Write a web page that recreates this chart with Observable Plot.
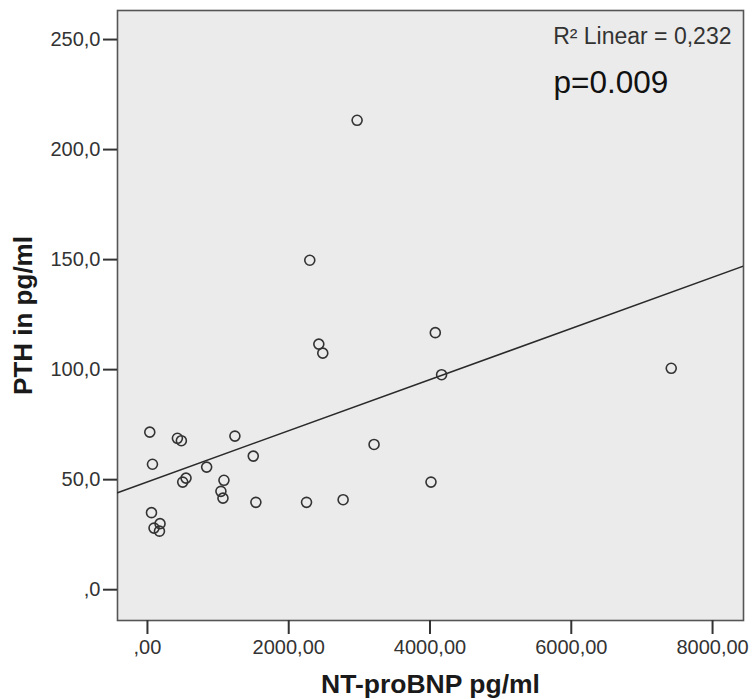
<!DOCTYPE html>
<html><head><meta charset="utf-8">
<script src="https://cdn.jsdelivr.net/npm/d3@7"></script>
<script src="https://cdn.jsdelivr.net/npm/@observablehq/plot@0.6"></script>
<style>body{margin:0;background:#fff;} #chart svg{display:block;}</style>
</head><body><div id="chart"></div>
<script>
// NT-proBNP (pg/ml) and PTH (pg/ml)
const ntprobnp = [33, 424, 480, 1238, 71, 1498, 838, 546, 499, 1083, 1040, 1069, 1535, 2252, 2770, 57, 178, 93, 170, 2968, 2298, 2426, 2482, 4075, 4164, 3208, 4014, 7415];
const pth      = [71.6, 68.8, 67.7, 69.8, 57, 60.7, 55.7, 50.7, 48.9, 49.7, 44.7, 41.6, 39.7, 39.7, 40.9, 35, 30, 28, 26.6, 213.3, 149.7, 111.6, 107.5, 116.8, 97.7, 66, 48.9, 100.6];

const xTicks = [0, 2000, 4000, 6000, 8000];
const xTickLabels = [",00", "2000,00", "4000,00", "6000,00", "8000,00"];
const yTicks = [0, 50, 100, 150, 200, 250];
const yTickLabels = [",0", "50,0", "100,0", "150,0", "200,0", "250,0"];
const xDomain = [-424, 8438];
const yDomain = [-14, 263.2];

// linear fit line (R² = 0.232)
const fitIntercept = 49.0;
const fitSlope = 0.01162;

const rSquaredLabel = "R² Linear = 0,232";
const pLabel = "p=0.009";
const xTitle = "NT-proBNP pg/ml";
const yTitle = "PTH in pg/ml";

const points = ntprobnp.map((x, i) => ({x, y: pth[i]}));
const fit = xDomain.map(x => ({x, y: fitIntercept + fitSlope * x}));

const font = "'Liberation Sans', Arial, Helvetica, sans-serif";

const chart = Plot.plot({
  width: 753, height: 699,
  marginLeft: 117, marginRight: 10, marginTop: 10, marginBottom: 79,
  style: {fontFamily: font, color: "#333", background: "#fff"},
  x: {domain: xDomain},
  y: {domain: yDomain},
  marks: [
    Plot.frame({fill: "#ebebeb", stroke: "#555", strokeWidth: 1.6}),
    Plot.line(fit, {x: "x", y: "y", stroke: "#2a2a2a", strokeWidth: 1.5, clip: true}),
    Plot.dot(points, {x: "x", y: "y", r: 5, stroke: "#333", strokeWidth: 1.6, fill: "none"}),
    Plot.axisX({ticks: xTicks, tickFormat: d => xTickLabels[xTicks.indexOf(d)], tickSize: 14, tickPadding: 5, fontSize: 20, strokeWidth: 2, label: null}),
    Plot.axisY({ticks: yTicks, tickFormat: d => yTickLabels[yTicks.indexOf(d)], tickSize: 14, tickPadding: 3, fontSize: 20, strokeWidth: 2, label: null}),
    Plot.text([xTitle], {frameAnchor: "bottom", dy: 72, lineAnchor: "bottom", fontSize: 26.5, fontWeight: "bold", fill: "#1a1a1a"}),
    Plot.text([yTitle], {frameAnchor: "left", dx: -104, rotate: -90, lineAnchor: "top", textAnchor: "middle", fontSize: 26, fontWeight: "bold", fill: "#1a1a1a"}),
    Plot.text([rSquaredLabel], {frameAnchor: "top-right", textAnchor: "end", lineAnchor: "top", dx: -12, dy: 17, fontSize: 23, fill: "#333"}),
    Plot.text([pLabel], {frameAnchor: "top-right", textAnchor: "start", lineAnchor: "top", dx: -190, dy: 60, fontSize: 31.5, fill: "#111"})
  ]
});
document.getElementById("chart").appendChild(chart);
</script>
</body></html>
